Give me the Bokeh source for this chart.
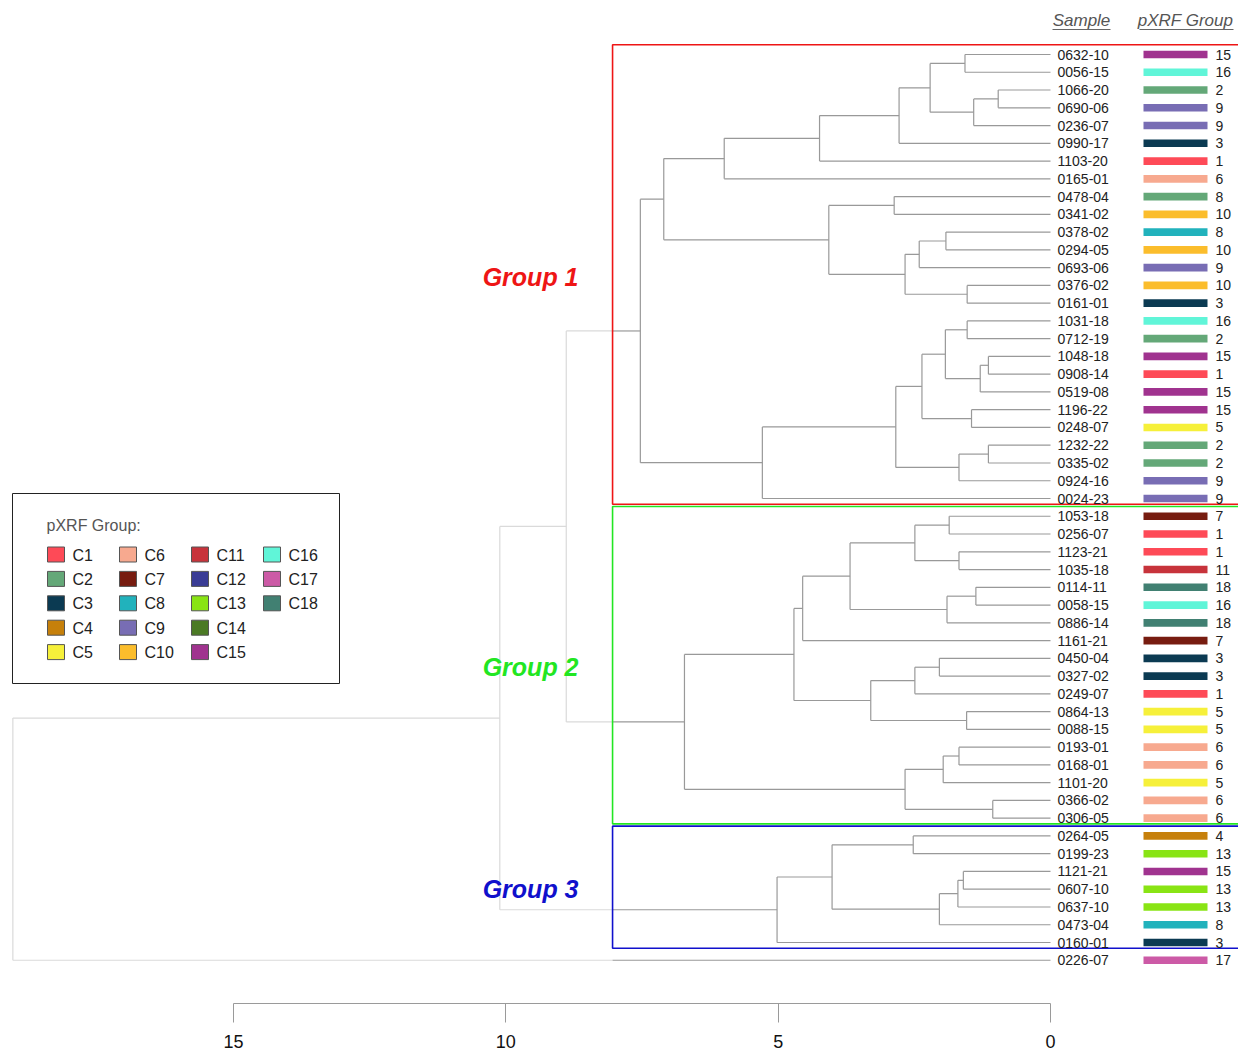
from bokeh.plotting import figure
from bokeh.models import Range1d, LinearAxis, FixedTicker, ColumnDataSource
from bokeh.core.properties import value
from bokeh.embed import file_html
from bokeh.resources import INLINE

# ---------------- data ----------------
samples = ["0632-10", "0056-15", "1066-20", "0690-06", "0236-07", "0990-17", "1103-20", "0165-01",
           "0478-04", "0341-02", "0378-02", "0294-05", "0693-06", "0376-02", "0161-01", "1031-18",
           "0712-19", "1048-18", "0908-14", "0519-08", "1196-22", "0248-07", "1232-22", "0335-02",
           "0924-16", "0024-23",
           "1053-18", "0256-07", "1123-21", "1035-18", "0114-11", "0058-15", "0886-14", "1161-21",
           "0450-04", "0327-02", "0249-07", "0864-13", "0088-15", "0193-01", "0168-01", "1101-20",
           "0366-02", "0306-05",
           "0264-05", "0199-23", "1121-21", "0607-10", "0637-10", "0473-04", "0160-01",
           "0226-07"]

pxrf_group = [15, 16, 2, 9, 9, 3, 1, 6, 8, 10, 8, 10, 9, 10, 3, 16, 2, 15, 1, 15, 15, 5, 2, 2, 9, 9,
              7, 1, 1, 11, 18, 16, 18, 7, 3, 3, 1, 5, 5, 6, 6, 5, 6, 6,
              4, 13, 15, 13, 13, 8, 3,
              17]

# colour class of each bar as drawn in the original (0478-04 is drawn in the C2 colour)
bar_class = [15, 16, 2, 9, 9, 3, 1, 6, 2, 10, 8, 10, 9, 10, 3, 16, 2, 15, 1, 15, 15, 5, 2, 2, 9, 9,
             7, 1, 1, 11, 18, 16, 18, 7, 3, 3, 1, 5, 5, 6, 6, 5, 6, 6,
             4, 13, 15, 13, 13, 8, 3,
             17]

legend_classes = ["C1", "C2", "C3", "C4", "C5", "C6", "C7", "C8", "C9", "C10",
                  "C11", "C12", "C13", "C14", "C15", "C16", "C17", "C18"]
class_colors = ["#fe4a57", "#64a878", "#0b3a52", "#c6800b", "#f6f03a", "#f7a98f", "#771c10",
                "#21b2bc", "#786db4", "#fbbd2c", "#c7333b", "#3a3c95", "#89e414", "#4b7a24",
                "#a0338f", "#60f5d8", "#cc5aa6", "#418072"]

group_names = ["Group 1", "Group 2", "Group 3"]
group_first = ["0632-10", "1053-18", "0264-05"]
group_last = ["0024-23", "0306-05", "0160-01"]
group_colors = ["#ee1515", "#22e622", "#1010cc"]

# linkage: (node, left, right, height)
merges = [
    ("a1", "0632-10", "0056-15", 1.57), ("a2", "1066-20", "0690-06", 0.96),
    ("a3", "a2", "0236-07", 1.41), ("a4", "a1", "a3", 2.21), ("a5", "a4", "0990-17", 2.78),
    ("a6", "a5", "1103-20", 4.24), ("a7", "a6", "0165-01", 5.99),
    ("b1", "0478-04", "0341-02", 2.87), ("b2", "0378-02", "0294-05", 1.92),
    ("b3", "b2", "0693-06", 2.41), ("b4", "0376-02", "0161-01", 1.53),
    ("b5", "b3", "b4", 2.67), ("b6", "b1", "b5", 4.07), ("ab", "a7", "b6", 7.10),
    ("c1", "1031-18", "0712-19", 1.53), ("c2", "1048-18", "0908-14", 1.14),
    ("c3", "c2", "0519-08", 1.29), ("c4", "c1", "c3", 1.93), ("c5", "1196-22", "0248-07", 1.45),
    ("c6", "c4", "c5", 2.36), ("c7", "1232-22", "0335-02", 1.14), ("c8", "c7", "0924-16", 1.68),
    ("c9", "c6", "c8", 2.84), ("c10", "c9", "0024-23", 5.29), ("G1", "ab", "c10", 7.53),
    ("d1", "1053-18", "0256-07", 1.86), ("d2", "1123-21", "1035-18", 1.68),
    ("d3", "d1", "d2", 2.49), ("d4", "0114-11", "0058-15", 1.37), ("d5", "d4", "0886-14", 1.90),
    ("d6", "d3", "d5", 3.68), ("d7", "d6", "1161-21", 4.55),
    ("e1", "0450-04", "0327-02", 2.04), ("e2", "e1", "0249-07", 2.49),
    ("e3", "0864-13", "0088-15", 1.54), ("e4", "e2", "e3", 3.30), ("e5", "d7", "e4", 4.71),
    ("f1", "0193-01", "0168-01", 1.68), ("f2", "f1", "1101-20", 1.97),
    ("f3", "0366-02", "0306-05", 1.06), ("f4", "f2", "f3", 2.67), ("G2", "e5", "f4", 6.72),
    ("g1", "0264-05", "0199-23", 2.52), ("g2", "1121-21", "0607-10", 1.60),
    ("g3", "g2", "0637-10", 1.70), ("g4", "g3", "0473-04", 2.04), ("g5", "g1", "g4", 4.01),
    ("G3", "g5", "0160-01", 5.02),
    ("G12", "G1", "G2", 8.89), ("G123", "G12", "G3", 10.11), ("root", "G123", "0226-07", 19.05),
]

axis_ticks = [0, 5, 10, 15]

# ---------------- layout constants ----------------
FRAME_W, FRAME_H = 1238, 1003
X0_PX, PX_PER_H = 1050.0, 54.47      # px of height 0, px per unit
Y0_PX, PX_PER_LEAF = 54.0, 17.76     # px of first leaf, px per leaf
BOX_H = 8.04                          # left edge of the group boxes

def dx(px):
    return (X0_PX - px) / PX_PER_H

def dy(py):
    return (py - Y0_PX) / PX_PER_LEAF

p = figure(frame_width=FRAME_W, frame_height=FRAME_H, output_backend="svg", toolbar_location=None,
           x_axis_type=None, y_axis_type=None,
           x_range=Range1d(X0_PX / PX_PER_H, -(FRAME_W - X0_PX) / PX_PER_H),
           y_range=Range1d((FRAME_H - Y0_PX) / PX_PER_LEAF, -Y0_PX / PX_PER_LEAF),
           min_border_left=0, min_border_right=0, min_border_top=0, min_border_bottom=0)
p.outline_line_color = None
p.grid.visible = False
p.background_fill_color = "white"
p.border_fill_color = "white"

# ---------------- dendrogram geometry ----------------
pos = {s: (0.0, float(i)) for i, s in enumerate(samples)}
light = dict(x0=[], y0=[], x1=[], y1=[])
dark = dict(x0=[], y0=[], x1=[], y1=[])

def add(seg, x0, y0, x1, y1):
    seg["x0"].append(x0); seg["y0"].append(y0); seg["x1"].append(x1); seg["y1"].append(y1)

for node, left, right, h in merges:
    hl, yl = pos[left]
    hr, yr = pos[right]
    pos[node] = (h, (yl + yr) / 2.0)
    add(light if h > BOX_H else dark, h, yl, h, yr)
    for hc, yc in ((hl, yl), (hr, yr)):
        if hc >= BOX_H:
            add(light, h, yc, hc, yc)
        elif h <= BOX_H:
            add(dark, h, yc, hc, yc)
        else:
            add(light, h, yc, BOX_H, yc)
            add(dark, BOX_H, yc, hc, yc)

p.segment(x0="x0", y0="y0", x1="x1", y1="y1", source=ColumnDataSource(light),
          line_color="#dadada", line_width=1.2)
p.segment(x0="x0", y0="y0", x1="x1", y1="y1", source=ColumnDataSource(dark),
          line_color="#999999", line_width=1.2)

# ---------------- group boxes ----------------
idx = {s: i for i, s in enumerate(samples)}
p.quad(left=[BOX_H] * 3, right=[dx(1240)] * 3,
       top=[idx[s] - 0.55 for s in group_first], bottom=[idx[s] + 0.32 for s in group_last],
       fill_color=None, line_color=group_colors, line_width=1.6)
p.text(x=[dx(578)] * 3, y=[(idx[a] + idx[b]) / 2.0 for a, b in zip(group_first, group_last)],
       text=group_names, text_color=group_colors, text_font=value("Liberation Sans"),
       text_font_size="25px", text_font_style="bold italic", text_align="right",
       text_baseline="middle")

# ---------------- leaf labels, bars, numbers ----------------
ys = list(range(len(samples)))
p.text(x=[dx(1057)] * len(samples), y=ys, text=samples, text_color="#222222",
       text_font=value("Liberation Sans"), text_font_size="14px", text_align="left",
       text_baseline="middle")
p.hbar(y=ys, left=dx(1143), right=dx(1207), height=0.43,
       fill_color=[class_colors[c - 1] for c in bar_class], line_color=None)
p.text(x=[dx(1215)] * len(samples), y=ys, text=[str(g) for g in pxrf_group], text_color="#222222",
       text_font=value("Liberation Sans"), text_font_size="14px", text_align="left",
       text_baseline="middle")

# headers
p.text(x=[dx(1081), dx(1185)], y=[dy(20), dy(20)], text=["Sample", "pXRF Group"],
       text_color="#555555", text_font=value("Liberation Sans"), text_font_size="17px",
       text_font_style="italic", text_align="center", text_baseline="middle")
p.segment(x0=[dx(1052), dx(1139)], y0=[dy(29)] * 2, x1=[dx(1110), dx(1233)], y1=[dy(29)] * 2,
          line_color="#666666", line_width=1)

# ---------------- legend ----------------
p.quad(left=[dx(12)], right=[dx(339)], top=[dy(493)], bottom=[dy(683)],
       fill_color="white", line_color="#222222", line_width=1)
p.text(x=[dx(46)], y=[dy(525)], text=["pXRF Group:"], text_color="#555555",
       text_font=value("Liberation Sans"), text_font_size="16px", text_align="left",
       text_baseline="middle")
sw_l, sw_r, sw_t, sw_b, lx, ly = [], [], [], [], [], []
for k, name in enumerate(legend_classes):
    col, row = k // 5, k % 5
    left_px = 47 + 72 * col
    cy = 554 + 24.4 * row
    sw_l.append(dx(left_px)); sw_r.append(dx(left_px + 17))
    sw_t.append(dy(cy - 7.5)); sw_b.append(dy(cy + 7.5))
    lx.append(dx(left_px + 25)); ly.append(dy(cy + 0.5))
p.quad(left=sw_l, right=sw_r, top=sw_t, bottom=sw_b, fill_color=class_colors,
       line_color="#555555", line_width=1)
p.text(x=lx, y=ly, text=legend_classes, text_color="#222222", text_font=value("Liberation Sans"),
       text_font_size="16px", text_align="left", text_baseline="middle")

# ---------------- axis ----------------
axis = LinearAxis(ticker=FixedTicker(ticks=axis_ticks), bounds=(0, 15))
axis.axis_line_color = "#9a9a9a"
axis.major_tick_line_color = "#9a9a9a"
axis.major_tick_out = 19
axis.major_tick_in = 0
axis.minor_tick_out = 0
axis.minor_tick_in = 0
axis.major_label_standoff = 12
axis.major_label_text_font = "Liberation Sans"
axis.major_label_text_font_size = "18px"
axis.major_label_text_color = "#111111"
p.add_layout(axis, "below")

open("out.html", "w").write(file_html(p, INLINE))
